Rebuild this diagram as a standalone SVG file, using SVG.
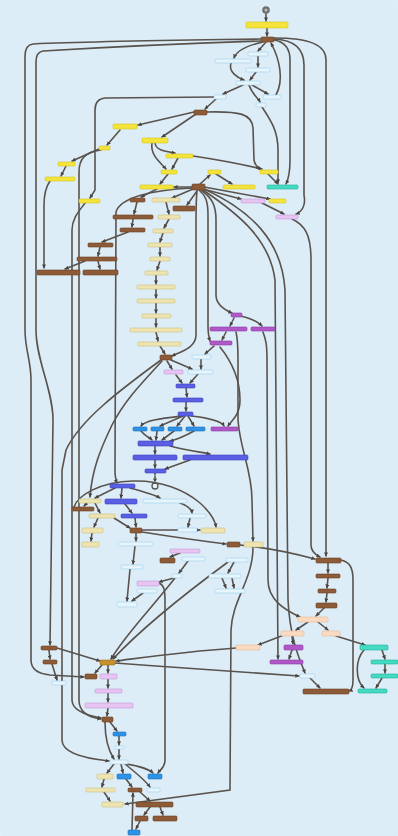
<svg xmlns="http://www.w3.org/2000/svg" width="398" height="836" viewBox="0 0 398 836">
<style>
rect{rx:1;stroke-width:0.6}
.y{fill:#f4e43c;stroke:#d9c51c}
.b{fill:#8e5b38;stroke:#6a4024}
.l{fill:#e6f4fb;stroke:#9fd2ec}
.g{fill:#eee4b2;stroke:#cfc07a}
.i{fill:#5a5fe4;stroke:#3d40b8}
.a{fill:#2f92e6;stroke:#1b6fb8}
.p{fill:#b158c9;stroke:#8a3aa3}
.v{fill:#e8c4f2;stroke:#c49ad4}
.t{fill:#45dbc2;stroke:#22b09a}
.k{fill:#fbdac2;stroke:#e8b896}
.o{fill:#c8922e;stroke:#9a6c1a}
#edges path{fill:none;stroke:#5a534d;stroke-width:1.6;stroke-linecap:round;marker-end:url(#ah)}
</style>
<defs>
<marker id="ah" viewBox="0 0 10 10" refX="9" refY="5" markerWidth="4" markerHeight="4" orient="auto" markerUnits="userSpaceOnUse"><path d="M0,0L10,5L0,10z" fill="#4a4440"/></marker>
</defs>
<rect x="0" y="0" width="398" height="836" fill="#dcedf8" stroke="none"/>
<g id="edges">
<path d="M266,14 L266,21"/>
<path d="M267,28 L267,36"/>
<path d="M266,42 L258,51"/>
<path d="M263,42 C245,46 236,52 234,58"/>
<path d="M258,56 L258,67"/>
<path d="M231,63 C228,72 238,78 244,80"/>
<path d="M256,72 L250,80"/>
<path d="M243,85 L223,94"/>
<path d="M252,85 L268,94"/>
<path d="M249,85 C252,94 258,98 260,102"/>
<path d="M276,95 C284,80 280,60 271,43"/>
<path d="M216,99 L205,109"/>
<path d="M214,97 L105,98 Q95,99 95,110 L95,190 L90,198"/>
<path d="M194,112 L138,125"/>
<path d="M196,114 L162,137"/>
<path d="M120,130 L107,145"/>
<path d="M99,149 L72,161"/>
<path d="M101,150 C84,152 79,160 79,172 L79,700 Q79,716 101,719"/>
<path d="M85,203 C80,210 72,218 72,230 L72,700 C72,712 90,716 101,718"/>
<path d="M66,166 L61,176"/>
<path d="M50,181 C45,188 44,195 44,205 L44,268"/>
<path d="M137,202 L134,214"/>
<path d="M133,219 L132,227"/>
<path d="M128,232 L102,242"/>
<path d="M100,247 L98,256"/>
<path d="M98,261 L100,269"/>
<path d="M85,261 L65,269"/>
<path d="M157,189 L141,197"/>
<path d="M155,143 C156,150 163,151 175,153"/>
<path d="M152,143 C150,155 160,162 166,169"/>
<path d="M178,158 L172,169"/>
<path d="M168,174 L160,184"/>
<path d="M193,156 C220,160 245,165 262,169"/>
<path d="M192,187 L174,187"/>
<path d="M193,189 L172,198"/>
<path d="M197,191 L187,205"/>
<path d="M200,184 L210,175"/>
<path d="M216,174 L232,184"/>
<path d="M203,189 L241,199"/>
<path d="M204,187 L270,199"/>
<path d="M268,174 L278,184"/>
<path d="M262,203 L284,214"/>
<path d="M206,112 C240,111 252,114 253,128 L254,160 Q255,166 260,169"/>
<path d="M274,40 C286,42 290,50 290,60 L290,160 C290,175 288,180 286,184"/>
<path d="M274,39 C295,40 304,50 304,65 L304,195 C306,205 302,212 296,214"/>
<path d="M274,38 C310,38 326,45 326,60 L326,556"/>
<path d="M262,107 C272,122 278,132 278,150 L278,183"/>
<path d="M199,190 C205,195 208,200 208,215 L208,325 C208,333 209,338 210,341"/>
<path d="M201,190 C212,198 216,205 216,220 L216,295 C216,305 225,310 232,313"/>
<path d="M203,190 C240,215 270,240 275,280 L278,659"/>
<path d="M204,189 C250,210 282,240 285,290 L288,600 C290,640 300,660 305,673"/>
<path d="M263,332 C266,340 267,345 267,360 L268,580 C268,600 285,610 300,617"/>
<path d="M234,318 L230,326"/>
<path d="M240,316 C250,318 258,322 262,326"/>
<path d="M226,332 L222,340"/>
<path d="M214,346 L205,354"/>
<path d="M201,359 L201,369"/>
<path d="M236,332 C238,340 238,345 238,360 L238,420 C240,450 252,470 252,500 L253,541"/>
<path d="M292,219 C305,225 311,235 311,260 L311,545 C311,552 316,555 320,557"/>
<path d="M197,191 C196,200 196,210 196,225 L196,335 C196,348 180,352 172,356"/>
<path d="M166,202 L169,214"/>
<path d="M169,219 L164,228"/>
<path d="M163,233 L160,242"/>
<path d="M160,247 L160,256"/>
<path d="M160,261 L157,270"/>
<path d="M156,275 L156,284"/>
<path d="M156,289 L156,298"/>
<path d="M156,303 L156,313"/>
<path d="M156,318 L156,327"/>
<path d="M156,332 L158,341"/>
<path d="M160,346 L165,354"/>
<path d="M167,361 L172,369"/>
<path d="M171,360 L192,369"/>
<path d="M161,360 C120,390 80,420 66,450 L62,470 L62,740 C62,752 80,758 109,761"/>
<path d="M162,361 C140,385 125,400 112,425 C100,450 92,470 90,497"/>
<path d="M192,188 C150,190 120,198 116,212 L115,470 Q115,478 117,483"/>
<path d="M176,375 L182,383"/>
<path d="M198,374 L190,383"/>
<path d="M186,388 L187,397"/>
<path d="M186,402 L186,411"/>
<path d="M182,416 C165,418 145,420 141,426"/>
<path d="M183,416 L160,426"/>
<path d="M185,416 L177,426"/>
<path d="M188,416 L194,426"/>
<path d="M191,416 C210,418 222,422 224,426"/>
<path d="M141,431 C145,436 150,438 152,440"/>
<path d="M157,431 L156,440"/>
<path d="M174,431 L162,440"/>
<path d="M194,431 C185,436 175,440 170,441"/>
<path d="M155,446 L155,454"/>
<path d="M170,446 C185,450 200,452 210,454"/>
<path d="M155,460 L155,468"/>
<path d="M190,460 L165,469"/>
<path d="M155,473 L155,482" stroke-dasharray="1.5 1.5"/>
<path d="M220,347 C232,362 240,380 240,400 C240,415 232,420 228,426"/>
<path d="M115,488 L95,498"/>
<path d="M122,488 L121,498"/>
<path d="M130,488 C145,492 155,495 160,498"/>
<path d="M87,503 L84,506"/>
<path d="M95,503 L100,513"/>
<path d="M125,504 L132,513"/>
<path d="M98,518 L94,527"/>
<path d="M114,518 L130,528"/>
<path d="M135,518 L136,527"/>
<path d="M92,533 L91,541"/>
<path d="M136,533 L136,541"/>
<path d="M180,503 C190,507 192,510 192,513"/>
<path d="M190,518 L188,527"/>
<path d="M142,530 L200,530"/>
<path d="M142,532 C180,538 210,542 226,544"/>
<path d="M240,545 C270,548 300,555 315,559"/>
<path d="M253,547 C253,580 232,600 231,630 L230,790 L125,804"/>
<path d="M74,507 C78,495 100,482 133,481 C160,480 185,490 200,503 C210,512 215,520 216,527"/>
<path d="M135,546 L133,564"/>
<path d="M130,569 L127,601"/>
<path d="M143,593 L132,601"/>
<path d="M174,578 L159,582"/>
<path d="M188,561 L179,573"/>
<path d="M180,553 L170,557"/>
<path d="M234,562 L228,573"/>
<path d="M222,578 L226,588"/>
<path d="M232,578 L234,588"/>
<path d="M328,563 L328,573"/>
<path d="M328,578 L327,588"/>
<path d="M327,593 L326,602"/>
<path d="M324,608 L316,616"/>
<path d="M341,560 C350,562 353,568 353,580 L353,680 Q353,690 349,691"/>
<path d="M308,622 L296,630"/>
<path d="M318,622 L328,630"/>
<path d="M292,636 L293,644"/>
<path d="M284,635 L258,645"/>
<path d="M336,636 L365,645"/>
<path d="M292,650 L289,659"/>
<path d="M382,650 L385,659"/>
<path d="M385,664 L385,673"/>
<path d="M382,678 L376,688"/>
<path d="M364,650 C355,660 355,680 364,688"/>
<path d="M236,648 C180,652 140,658 116,661"/>
<path d="M115,663 C180,668 250,672 299,676"/>
<path d="M310,678 L320,688"/>
<path d="M228,562 C190,590 140,630 113,659"/>
<path d="M175,578 C150,610 125,635 111,659"/>
<path d="M49,650 L50,659"/>
<path d="M52,664 L57,680"/>
<path d="M57,648 L100,661"/>
<path d="M102,665 L95,673"/>
<path d="M108,665 L108,673"/>
<path d="M108,679 L108,688"/>
<path d="M108,693 L108,702"/>
<path d="M108,708 L107,716"/>
<path d="M110,722 L117,731"/>
<path d="M105,722 C105,735 108,750 114,759"/>
<path d="M119,736 L119,745"/>
<path d="M119,749 L119,759"/>
<path d="M114,764 L107,773"/>
<path d="M121,764 L123,773"/>
<path d="M126,764 C140,766 150,770 153,773"/>
<path d="M125,764 C135,772 145,780 150,787"/>
<path d="M104,779 L102,787"/>
<path d="M104,792 L110,801"/>
<path d="M126,779 L132,787"/>
<path d="M140,792 L150,801"/>
<path d="M150,807 L144,815"/>
<path d="M160,807 L163,815"/>
<path d="M140,821 L136,829"/>
<path d="M132,830 L133,793"/>
<path d="M159,583 C164,585 165,590 165,600 L165,760 C165,768 160,770 158,773"/>
<path d="M261,39 C200,40 100,41 33,44 Q25,45 25,56 L25,330 C25,350 31,360 31,380 L31,660 C31,670 40,674 50,675 L84,677"/>
<path d="M261,41 C200,43 110,47 43,51 Q36,52 36,62 L36,330 C36,360 53,390 53,420 L50,645"/>
</g>
<g id="n0"><circle cx="266" cy="10" r="3.8" fill="#6e6e6e"/><circle cx="266" cy="10" r="1.6" fill="#bcbcbc"/></g>
<g id="n1"><rect class="y" x="246" y="22" width="42" height="6"/></g>
<g id="n2"><rect class="b" x="261" y="37" width="13" height="5"/></g>
<g id="n3"><rect class="l" x="248" y="52" width="20" height="4"/></g>
<g id="n4"><rect class="l" x="215" y="59" width="36" height="4"/></g>
<g id="n5"><rect class="l" x="246" y="68" width="24" height="4"/></g>
<g id="n6"><rect class="l" x="236" y="81" width="24" height="4"/></g>
<g id="n7"><rect class="l" x="214" y="95" width="12" height="4"/></g>
<g id="n8"><rect class="l" x="263" y="95" width="18" height="4"/></g>
<g id="n9"><rect class="l" x="256" y="103" width="10" height="4"/></g>
<g id="n10"><rect class="b" x="194" y="110" width="13" height="5"/></g>
<g id="n11"><rect class="y" x="113" y="124" width="24" height="5"/></g>
<g id="n12"><rect class="y" x="142" y="138" width="26" height="5"/></g>
<g id="n13"><rect class="y" x="99" y="146" width="11" height="4"/></g>
<g id="n14"><rect class="y" x="58" y="162" width="17" height="4"/></g>
<g id="n15"><rect class="y" x="45" y="177" width="30" height="4"/></g>
<g id="n16"><rect class="y" x="166" y="154" width="27" height="4"/></g>
<g id="n17"><rect class="y" x="161" y="170" width="16" height="4"/></g>
<g id="n18"><rect class="y" x="140" y="185" width="33" height="4"/></g>
<g id="n19"><rect class="y" x="79" y="199" width="21" height="4"/></g>
<g id="n20"><rect class="b" x="130" y="198" width="15" height="4"/></g>
<g id="n21"><rect class="g" x="152" y="198" width="28" height="4"/></g>
<g id="n22"><rect class="b" x="192" y="184" width="13" height="6"/></g>
<g id="n23"><rect class="b" x="173" y="206" width="22" height="5"/></g>
<g id="n24"><rect class="b" x="113" y="215" width="40" height="4"/></g>
<g id="n25"><rect class="g" x="158" y="215" width="22" height="4"/></g>
<g id="n26"><rect class="b" x="120" y="228" width="25" height="4"/></g>
<g id="n27"><rect class="g" x="153" y="229" width="20" height="4"/></g>
<g id="n28"><rect class="b" x="88" y="243" width="25" height="4"/></g>
<g id="n29"><rect class="g" x="148" y="243" width="24" height="4"/></g>
<g id="n30"><rect class="b" x="77" y="257" width="40" height="4"/></g>
<g id="n31"><rect class="g" x="150" y="257" width="20" height="4"/></g>
<g id="n32"><rect class="b" x="37" y="270" width="43" height="5"/></g>
<g id="n33"><rect class="b" x="83" y="270" width="35" height="5"/></g>
<g id="n34"><rect class="g" x="145" y="271" width="23" height="4"/></g>
<g id="n35"><rect class="y" x="208" y="170" width="13" height="4"/></g>
<g id="n36"><rect class="y" x="260" y="170" width="18" height="4"/></g>
<g id="n37"><rect class="y" x="223" y="185" width="32" height="4"/></g>
<g id="n38"><rect class="t" x="267" y="185" width="31" height="4"/></g>
<g id="n39"><rect class="v" x="241" y="199" width="24" height="4"/></g>
<g id="n40"><rect class="y" x="269" y="199" width="17" height="4"/></g>
<g id="n41"><rect class="v" x="276" y="215" width="22" height="4"/></g>
<g id="n42"><rect class="g" x="137" y="285" width="38" height="4"/></g>
<g id="n43"><rect class="g" x="137" y="299" width="38" height="4"/></g>
<g id="n44"><rect class="g" x="142" y="314" width="29" height="4"/></g>
<g id="n45"><rect class="g" x="130" y="328" width="52" height="4"/></g>
<g id="n46"><rect class="g" x="138" y="342" width="43" height="4"/></g>
<g id="n47"><rect class="b" x="160" y="355" width="12" height="5"/></g>
<g id="n48"><rect class="p" x="231" y="313" width="11" height="4"/></g>
<g id="n49"><rect class="p" x="210" y="327" width="37" height="4"/></g>
<g id="n50"><rect class="p" x="251" y="327" width="24" height="4"/></g>
<g id="n51"><rect class="p" x="210" y="341" width="22" height="4"/></g>
<g id="n52"><rect class="l" x="192" y="355" width="19" height="4"/></g>
<g id="n53"><rect class="v" x="164" y="370" width="19" height="4"/></g>
<g id="n54"><rect class="l" x="188" y="370" width="25" height="4"/></g>
<g id="n55"><rect class="i" x="176" y="384" width="19" height="4"/></g>
<g id="n56"><rect class="i" x="173" y="398" width="30" height="4"/></g>
<g id="n57"><rect class="i" x="178" y="412" width="15" height="4"/></g>
<g id="n58"><rect class="a" x="133" y="427" width="14" height="4"/></g>
<g id="n59"><rect class="a" x="151" y="427" width="13" height="4"/></g>
<g id="n60"><rect class="a" x="168" y="427" width="14" height="4"/></g>
<g id="n61"><rect class="a" x="186" y="427" width="19" height="4"/></g>
<g id="n62"><rect class="p" x="211" y="427" width="27" height="4"/></g>
<g id="n63"><rect class="i" x="138" y="441" width="35" height="5"/></g>
<g id="n64"><rect class="i" x="133" y="455" width="44" height="5"/></g>
<g id="n65"><rect class="i" x="183" y="455" width="65" height="5"/></g>
<g id="n66"><rect class="i" x="145" y="469" width="21" height="4"/></g>
<g id="n67"><circle cx="155" cy="486" r="3" fill="#e8f2f8" stroke="#555" stroke-width="1.3"/></g>
<g id="n68"><rect class="i" x="110" y="484" width="25" height="4"/></g>
<g id="n69"><rect class="g" x="79" y="499" width="22" height="4"/></g>
<g id="n70"><rect class="i" x="105" y="499" width="32" height="5"/></g>
<g id="n71"><rect class="l" x="143" y="499" width="44" height="4"/></g>
<g id="n72"><rect class="b" x="72" y="507" width="22" height="4"/></g>
<g id="n73"><rect class="g" x="89" y="514" width="26" height="4"/></g>
<g id="n74"><rect class="i" x="121" y="514" width="26" height="4"/></g>
<g id="n75"><rect class="l" x="178" y="514" width="28" height="4"/></g>
<g id="n76"><rect class="g" x="82" y="528" width="21" height="5"/></g>
<g id="n77"><rect class="b" x="130" y="528" width="12" height="5"/></g>
<g id="n78"><rect class="l" x="178" y="528" width="19" height="4"/></g>
<g id="n79"><rect class="g" x="201" y="528" width="24" height="5"/></g>
<g id="n80"><rect class="g" x="82" y="542" width="17" height="5"/></g>
<g id="n81"><rect class="l" x="118" y="542" width="35" height="4"/></g>
<g id="n82"><rect class="b" x="227" y="542" width="13" height="5"/></g>
<g id="n83"><rect class="g" x="244" y="542" width="19" height="5"/></g>
<g id="n84"><rect class="v" x="170" y="549" width="30" height="4"/></g>
<g id="n85"><rect class="b" x="160" y="558" width="15" height="5"/></g>
<g id="n86"><rect class="l" x="182" y="557" width="23" height="4"/></g>
<g id="n87"><rect class="l" x="226" y="558" width="22" height="4"/></g>
<g id="n88"><rect class="l" x="121" y="565" width="22" height="4"/></g>
<g id="n89"><rect class="l" x="172" y="574" width="10" height="4"/></g>
<g id="n90"><rect class="l" x="209" y="574" width="32" height="4"/></g>
<g id="n91"><rect class="v" x="137" y="581" width="22" height="5"/></g>
<g id="n92"><rect class="l" x="137" y="589" width="20" height="4"/></g>
<g id="n93"><rect class="l" x="215" y="589" width="30" height="4"/></g>
<g id="n94"><rect class="l" x="117" y="602" width="20" height="5"/></g>
<g id="n95"><rect class="b" x="316" y="558" width="25" height="5"/></g>
<g id="n96"><rect class="b" x="316" y="574" width="24" height="4"/></g>
<g id="n97"><rect class="b" x="318" y="589" width="18" height="4"/></g>
<g id="n98"><rect class="b" x="316" y="603" width="21" height="5"/></g>
<g id="n99"><rect class="k" x="298" y="617" width="30" height="5"/></g>
<g id="n100"><rect class="k" x="281" y="631" width="23" height="5"/></g>
<g id="n101"><rect class="k" x="322" y="631" width="18" height="5"/></g>
<g id="n102"><rect class="k" x="236" y="645" width="24" height="5"/></g>
<g id="n103"><rect class="p" x="284" y="645" width="19" height="5"/></g>
<g id="n104"><rect class="p" x="270" y="660" width="33" height="4"/></g>
<g id="n105"><rect class="l" x="300" y="674" width="15" height="4"/></g>
<g id="n106"><rect class="t" x="360" y="645" width="28" height="5"/></g>
<g id="n107"><rect class="t" x="371" y="660" width="27" height="4"/></g>
<g id="n108"><rect class="t" x="371" y="674" width="27" height="4"/></g>
<g id="n109"><rect class="b" x="303" y="689" width="46" height="5"/></g>
<g id="n110"><rect class="t" x="358" y="689" width="29" height="4"/></g>
<g id="n111"><rect class="b" x="41" y="646" width="16" height="4"/></g>
<g id="n112"><rect class="b" x="43" y="660" width="14" height="4"/></g>
<g id="n113"><rect class="o" x="100" y="660" width="15" height="5"/></g>
<g id="n114"><rect class="b" x="85" y="674" width="12" height="5"/></g>
<g id="n115"><rect class="v" x="100" y="674" width="17" height="5"/></g>
<g id="n116"><rect class="l" x="52" y="681" width="14" height="4"/></g>
<g id="n117"><rect class="v" x="95" y="689" width="27" height="4"/></g>
<g id="n118"><rect class="v" x="85" y="703" width="48" height="5"/></g>
<g id="n119"><rect class="b" x="102" y="717" width="11" height="5"/></g>
<g id="n120"><rect class="a" x="113" y="732" width="13" height="4"/></g>
<g id="n121"><rect class="l" x="114" y="746" width="10" height="3"/></g>
<g id="n122"><rect class="l" x="110" y="760" width="18" height="4"/></g>
<g id="n123"><rect class="g" x="97" y="774" width="16" height="5"/></g>
<g id="n124"><rect class="a" x="117" y="774" width="14" height="5"/></g>
<g id="n125"><rect class="a" x="148" y="774" width="14" height="5"/></g>
<g id="n126"><rect class="g" x="86" y="788" width="29" height="4"/></g>
<g id="n127"><rect class="b" x="128" y="788" width="14" height="4"/></g>
<g id="n128"><rect class="l" x="147" y="788" width="13" height="4"/></g>
<g id="n129"><rect class="g" x="102" y="802" width="21" height="5"/></g>
<g id="n130"><rect class="b" x="136" y="802" width="37" height="5"/></g>
<g id="n131"><rect class="b" x="135" y="816" width="13" height="5"/></g>
<g id="n132"><rect class="b" x="153" y="816" width="24" height="5"/></g>
<g id="n133"><rect class="a" x="128" y="830" width="12" height="5"/></g>
</svg>
